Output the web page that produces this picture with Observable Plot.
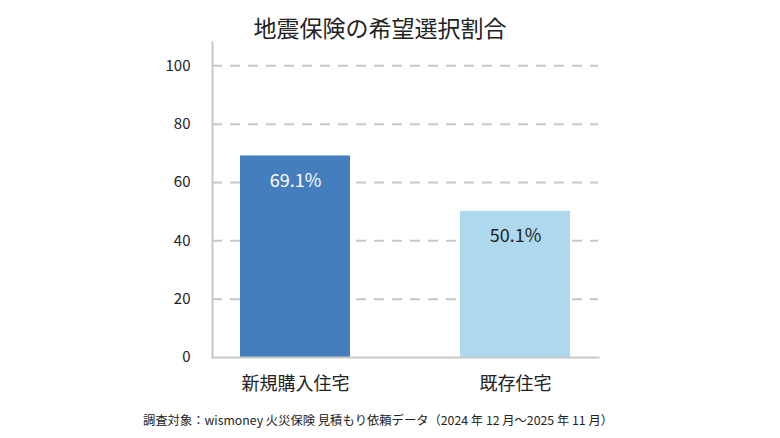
<!DOCTYPE html>
<html><head><meta charset="utf-8">
<script src="https://cdn.jsdelivr.net/npm/d3@7"></script>
<script src="https://cdn.jsdelivr.net/npm/@observablehq/plot@0.6"></script>
<style>
body{margin:0;background:#fff;font-family:"Noto Sans CJK JP","Noto Sans",sans-serif;}
#wrap{position:relative;width:780px;height:438px;overflow:hidden;}
#title{position:absolute;top:10px;left:0;width:760px;text-align:center;font-size:23px;color:#222;}
#cap{position:absolute;top:411px;left:0;width:756px;text-align:center;font-size:12.3px;color:#222;}
#chart{position:absolute;top:0;left:0;}
</style></head>
<body>
<div id="wrap"><div id="chart"></div><div id="title">地震保険の希望選択割合</div><div id="cap">調査対象：wismoney 火災保険 見積もり依頼データ（2024 年 12 月～2025 年 11 月）</div></div>
<script>
const categories = ["新規購入住宅", "既存住宅"];
const values = [69.1, 50.1];
const labels = ["69.1%", "50.1%"];
const barColors = ["#457ebd", "#add8ed"];
const labelColors = ["#ffffff", "#222222"];
const yTicks = [0, 20, 40, 60, 80, 100];

const data = categories.map((c, i) => ({cat: c, v: values[i], label: labels[i], fill: barColors[i], lf: labelColors[i]}));

const chart = Plot.plot({
  width: 780, height: 438,
  marginTop: 42, marginBottom: 81, marginLeft: 212, marginRight: 182,
  style: {fontFamily: '"Noto Sans CJK JP","Noto Sans",sans-serif', color: "#222", background: "transparent"},
  x: {domain: categories, paddingInner: 0.5, paddingOuter: 0.127, label: null},
  y: {domain: [0, 108], ticks: yTicks, label: null},
  marks: [
    Plot.ruleY(yTicks.filter(d => d > 0), {stroke: "#c8c8c8", strokeWidth: 2, strokeDasharray: "10,8"}),
    Plot.barY(data, {x: "cat", y: "v", fill: "fill"}),
    Plot.text(data, {x: "cat", y: "v", text: "label", fill: "lf", dy: 25, fontSize: 18}),
    Plot.frame({anchor: "left", stroke: "#c8c8c8", strokeWidth: 2}),
    Plot.frame({anchor: "bottom", stroke: "#c8c8c8", strokeWidth: 2}),
    Plot.axisY({ticks: yTicks, tickSize: 0, tickPadding: 22, fontSize: 15, label: null}),
    Plot.axisX({tickSize: 0, tickPadding: 20, fontSize: 18, label: null})
  ]
});
document.getElementById("chart").appendChild(chart);
</script>
</body></html>
